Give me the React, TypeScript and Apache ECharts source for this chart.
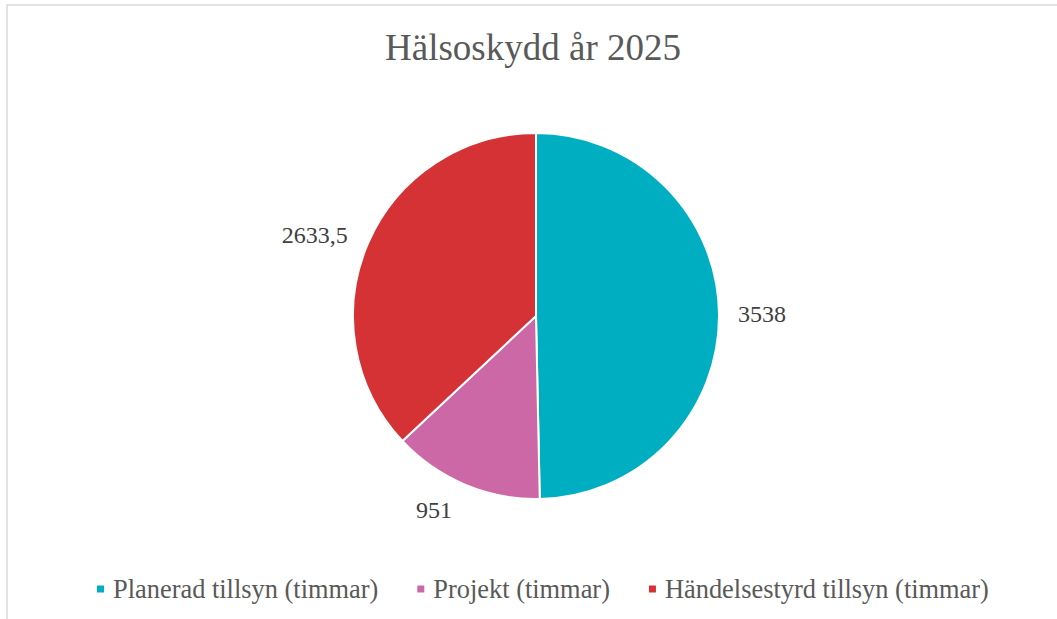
import React, { useEffect, useRef } from "react";
import * as echarts from "echarts";

const TITLE = "Hälsoskydd år 2025";
const CATEGORIES = [
  "Planerad tillsyn (timmar)",
  "Projekt (timmar)",
  "Händelsestyrd tillsyn (timmar)",
];
const VALUES = [3538, 951, 2633.5];
const LABELS = ["3538", "951", "2633,5"];
const COLORS = ["#00AEC2", "#CC68A6", "#D43234"];
const LABEL_LINE_LEN = [17, 28, 20];

const FONT = "'Liberation Serif', 'Times New Roman', serif";

export default function App() {
  const ref = useRef<HTMLDivElement>(null);
  useEffect(() => {
    if (!ref.current) return;
    const chart = echarts.init(ref.current, undefined, { renderer: "svg" });
    chart.setOption({
      animation: false,
      backgroundColor: "#ffffff",
      graphic: [
        {
          type: "rect",
          shape: { x: 7, y: 5, width: 1200, height: 800 },
          style: { fill: "none", stroke: "#d9d9d9", lineWidth: 1.5 },
          silent: true,
        },
      ],
      title: {
        text: TITLE,
        left: 380,
        top: 24,
        textStyle: {
          fontFamily: FONT,
          fontSize: 37,
          fontWeight: "normal",
          color: "#595959",
        },
      },
      legend: {
        data: CATEGORIES,
        left: 90,
        top: 571,
        icon: "rect",
        itemWidth: 9,
        itemHeight: 9,
        itemGap: 37,
        textStyle: {
          fontFamily: FONT,
          fontSize: 26.4,
          color: "#595959",
          padding: [0, 0, 0, 3],
        },
      },
      series: [
        {
          type: "pie",
          center: [536, 316],
          radius: 183,
          startAngle: 90,
          clockwise: true,
          avoidLabelOverlap: false,
          itemStyle: { borderColor: "#ffffff", borderWidth: 2 },
          label: {
            show: true,
            position: "outside",
            fontFamily: FONT,
            fontSize: 24,
            color: "#404040",
            distanceToLabelLine: 2,
          },
          labelLine: { show: false, length: 17, length2: 0 },
          emphasis: { disabled: true },
          data: CATEGORIES.map((name, i) => ({
            name,
            value: VALUES[i],
            itemStyle: { color: COLORS[i] },
            label: { formatter: LABELS[i] },
            labelLine: { show: false, length: LABEL_LINE_LEN[i], length2: 0 },
          })),
        },
      ],
    });
    return () => chart.dispose();
  }, []);
  return (
    <div
      ref={ref}
      style={{ position: "fixed", left: 0, top: 0, width: 1057, height: 619 }}
    />
  );
}
